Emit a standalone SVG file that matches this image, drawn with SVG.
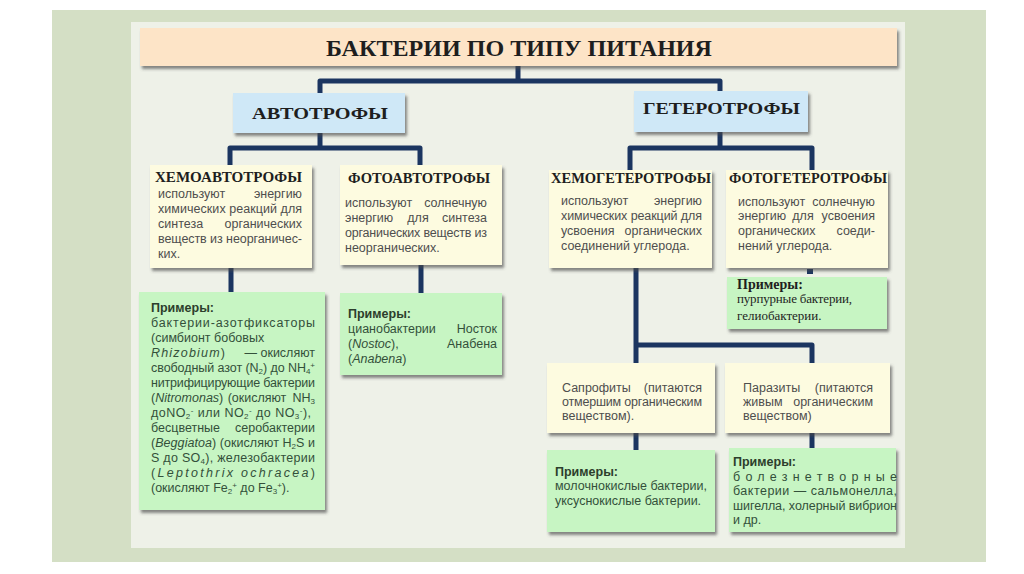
<svg xmlns="http://www.w3.org/2000/svg" width="1024" height="574" viewBox="0 0 1024 574">
<defs>
<filter id="sh" x="-10%" y="-10%" width="125%" height="130%">
<feDropShadow dx="2" dy="3" stdDeviation="1.6" flood-color="#4a4a4a" flood-opacity="0.65"/>
</filter>
<style>
.ser{font-family:"Liberation Serif","DejaVu Serif",serif;font-weight:bold;fill:#1e1e1e}
.h1{font-size:23px}
.h2{font-size:17px}
.h3{font-size:15px}
.b{font-family:"Liberation Sans",Arial,sans-serif;font-size:12.5px;fill:#4e4e4e}
.g{font-family:"Liberation Sans",Arial,sans-serif;font-size:12.5px;fill:#33503a}
.gb{font-weight:bold;fill:#2c3e2c}
.e{text-anchor:end}
.m{text-anchor:middle}
.it{font-style:italic}
.sub{font-size:8px}
.peach{fill:#fde4c7}
.blue{fill:#cfe8f7}
.cream{fill:#fdfbe0}
.green{fill:#c7f5c3}
.con{fill:none;stroke:#1b3560;stroke-width:5;stroke-linejoin:round}
</style>
</defs>
<rect width="1024" height="574" fill="#ffffff"/>
<rect x="52" y="10" width="934" height="552" fill="#d4dfc5"/>
<rect x="131" y="22" width="774" height="526" fill="#eef1e8"/>

<g id="connectors">
<path class="con" d="M518,66 V81 M320,93 V81 H720 V91"/>
<path class="con" d="M320,133 V148 M230,165 V148 H420 V165"/>
<path class="con" d="M720,132 V148 M630,170 V148 H812 V170"/>
<path class="con" d="M231,268 V292"/>
<path class="con" d="M421,265 V293"/>
<path class="con" d="M636,268 V363 M636,345 H812 V363"/>
<path class="con" d="M636,433 V450"/>
<path class="con" d="M812,433 V448"/>
<rect x="807" y="269" width="6" height="5" fill="#1b3560"/>
</g>

<g id="title">
<rect class="peach" x="140" y="28" width="757" height="38" filter="url(#sh)"/>
<text class="ser h1" x="326" y="56" textLength="386" lengthAdjust="spacingAndGlyphs">БАКТЕРИИ ПО ТИПУ ПИТАНИЯ</text>
</g>

<g id="autotrophs">
<rect class="blue" x="233" y="93" width="172" height="40" filter="url(#sh)"/>
<text class="ser h2" x="252" y="119" textLength="136" lengthAdjust="spacingAndGlyphs">АВТОТРОФЫ</text>
</g>

<g id="heterotrophs">
<rect class="blue" x="634" y="91" width="174" height="41" filter="url(#sh)"/>
<text class="ser h2" x="643" y="114" textLength="157" lengthAdjust="spacingAndGlyphs">ГЕТЕРОТРОФЫ</text>
</g>

<g id="chemoautotrophs">
<rect class="cream" x="150" y="165" width="162" height="103" filter="url(#sh)"/>
<text class="ser h3" x="155" y="182" textLength="147" lengthAdjust="spacingAndGlyphs">ХЕМОАВТОТРОФЫ</text>
<text class="b" x="158" y="198">используют</text><text class="b e" x="302" y="198">энергию</text>
<text class="b" x="158" y="213" textLength="144">химических реакций для</text>
<text class="b" x="158" y="228">синтеза</text><text class="b e" x="302" y="228">органических</text>
<text class="b" x="158" y="243" textLength="144">веществ из неорганичес-</text>
<text class="b" x="158" y="258">ких.</text>
</g>

<g id="photoautotrophs">
<rect class="cream" x="340" y="165" width="162" height="100" filter="url(#sh)"/>
<text class="ser h3" x="348" y="183" textLength="142" lengthAdjust="spacingAndGlyphs">ФОТОАВТОТРОФЫ</text>
<text class="b" x="345" y="207">используют</text><text class="b e" x="487" y="207">солнечную</text>
<text class="b" x="345" y="222">энергию</text><text class="b m" x="418" y="222">для</text><text class="b e" x="487" y="222">синтеза</text>
<text class="b" x="345" y="237" textLength="142">органических веществ из</text>
<text class="b" x="345" y="252">неорганических.</text>
</g>

<g id="chemoheterotrophs">
<rect class="cream" x="549" y="170" width="163" height="98" filter="url(#sh)"/>
<text class="ser h3" x="551" y="183" textLength="160" lengthAdjust="spacingAndGlyphs">ХЕМОГЕТЕРОТРОФЫ</text>
<text class="b" x="561" y="205">используют</text><text class="b e" x="702" y="205">энергию</text>
<text class="b" x="561" y="220" textLength="141">химических реакций для</text>
<text class="b" x="561" y="235">усвоения</text><text class="b e" x="702" y="235">органических</text>
<text class="b" x="561" y="250">соединений углерода.</text>
</g>

<g id="photoheterotrophs">
<rect class="cream" x="726" y="170" width="162" height="98" filter="url(#sh)"/>
<text class="ser h3" x="729" y="183" textLength="158" lengthAdjust="spacingAndGlyphs">ФОТОГЕТЕРОТРОФЫ</text>
<text class="b" x="738" y="206">используют</text><text class="b e" x="875" y="206">солнечную</text>
<text class="b" x="738" y="220">энергию</text><text class="b m" x="803" y="220">для</text><text class="b e" x="875" y="220">усвоения</text>
<text class="b" x="738" y="235">органических</text><text class="b e" x="875" y="235">соеди-</text>
<text class="b" x="738" y="250">нений углерода.</text>
</g>

<g id="examples-chemoautotrophs">
<rect class="green" x="139" y="292" width="186" height="218" filter="url(#sh)"/>
<text class="g gb" x="151" y="312">Примеры:</text>
<text class="g" x="151" y="327" textLength="164">бактерии-азотфиксаторы</text>
<text class="g" x="151" y="342">(симбионт бобовых</text>
<text class="g" x="151" y="357" textLength="74"><tspan class="it">Rhizobium</tspan>)</text><text class="g e" x="315" y="357">— окисляют</text>
<text class="g" x="151" y="372" textLength="164">свободный азот (N<tspan class="sub" dy="2">2</tspan><tspan dy="-2">) до NH</tspan><tspan class="sub" dy="2">4</tspan><tspan class="sub" dy="-6">+</tspan></text>
<text class="g" x="151" y="387" textLength="164">нитрифицирующие бактерии</text>
<text class="g" x="151" y="402">(<tspan class="it">Nitromonas</tspan>)</text><text class="g m" x="257" y="402">(окисляют</text><text class="g e" x="315" y="402">NH<tspan class="sub" dy="2">3</tspan></text>
<text class="g" x="151" y="417" textLength="160">доNO<tspan class="sub" dy="2">2</tspan><tspan class="sub" dy="-6">-</tspan><tspan dy="4"> или NO</tspan><tspan class="sub" dy="2">2</tspan><tspan class="sub" dy="-6">-</tspan><tspan dy="4"> до NO</tspan><tspan class="sub" dy="2">3</tspan><tspan class="sub" dy="-6">-</tspan><tspan dy="4">),</tspan></text>
<text class="g" x="151" y="432">бесцветные</text><text class="g e" x="315" y="432">серобактерии</text>
<text class="g" x="151" y="447" textLength="164">(<tspan class="it">Beggiatoa</tspan>) (окисляют H<tspan class="sub" dy="2">2</tspan><tspan dy="-2">S и</tspan></text>
<text class="g" x="151" y="462" textLength="164">S до SO<tspan class="sub" dy="2">4</tspan><tspan dy="-2">), железобактерии</tspan></text>
<text class="g" x="151" y="477" textLength="164">(<tspan class="it">Leptothrix ochracea</tspan>)</text>
<text class="g" x="151" y="492">(окисляют Fe<tspan class="sub" dy="2">2</tspan><tspan class="sub" dy="-6">+</tspan><tspan dy="4"> до Fe</tspan><tspan class="sub" dy="2">3</tspan><tspan class="sub" dy="-6">+</tspan><tspan dy="4">).</tspan></text>
</g>

<g id="examples-photoautotrophs">
<rect class="green" x="340" y="293" width="162" height="82" filter="url(#sh)"/>
<text class="g gb" x="348" y="318">Примеры:</text>
<text class="g" x="348" y="333">цианобактерии</text><text class="g e" x="497" y="333">Носток</text>
<text class="g" x="348" y="348">(<tspan class="it">Nostoc</tspan>),</text><text class="g e" x="497" y="348">Анабена</text>
<text class="g" x="348" y="363">(<tspan class="it">Anabena</tspan>)</text>
</g>

<g id="examples-photoheterotrophs">
<rect class="green" x="727" y="277" width="160" height="52" filter="url(#sh)"/>
<text class="ser" x="737" y="289" font-size="14">Примеры:</text>
<text x="737" y="303" font-family="Liberation Serif, DejaVu Serif, serif" font-size="13" fill="#1e1e1e" textLength="115">пурпурные бактерии,</text>
<text x="737" y="320" font-family="Liberation Serif, DejaVu Serif, serif" font-size="13" fill="#1e1e1e">гелиобактерии.</text>
</g>

<g id="saprophytes">
<rect class="cream" x="547" y="363" width="168" height="70" filter="url(#sh)"/>
<text class="b" x="562" y="392">Сапрофиты</text><text class="b e" x="702" y="392">(питаются</text>
<text class="b" x="562" y="406" textLength="140">отмершим органическим</text>
<text class="b" x="562" y="420">веществом).</text>
</g>

<g id="parasites">
<rect class="cream" x="725" y="363" width="165" height="70" filter="url(#sh)"/>
<text class="b" x="743" y="392">Паразиты</text><text class="b e" x="873" y="392">(питаются</text>
<text class="b" x="743" y="406">живым</text><text class="b e" x="873" y="406">органическим</text>
<text class="b" x="743" y="420">веществом)</text>
</g>

<g id="examples-saprophytes">
<rect class="green" x="547" y="450" width="168" height="82" filter="url(#sh)"/>
<text class="g gb" x="555" y="476">Примеры:</text>
<text class="g" x="555" y="490" textLength="152">молочнокислые бактерии,</text>
<text class="g" x="555" y="505">уксуснокислые бактерии.</text>
</g>

<g id="examples-parasites">
<rect class="green" x="729" y="448" width="167" height="84" filter="url(#sh)"/>
<text class="g gb" x="733" y="466">Примеры:</text>
<text class="g" x="733" y="481" textLength="164">болезнетворные</text>
<text class="g" x="733" y="495" textLength="164">бактерии — сальмонелла,</text>
<text class="g" x="733" y="510" textLength="164">шигелла, холерный вибрион</text>
<text class="g" x="733" y="524">и др.</text>
</g>
</svg>
